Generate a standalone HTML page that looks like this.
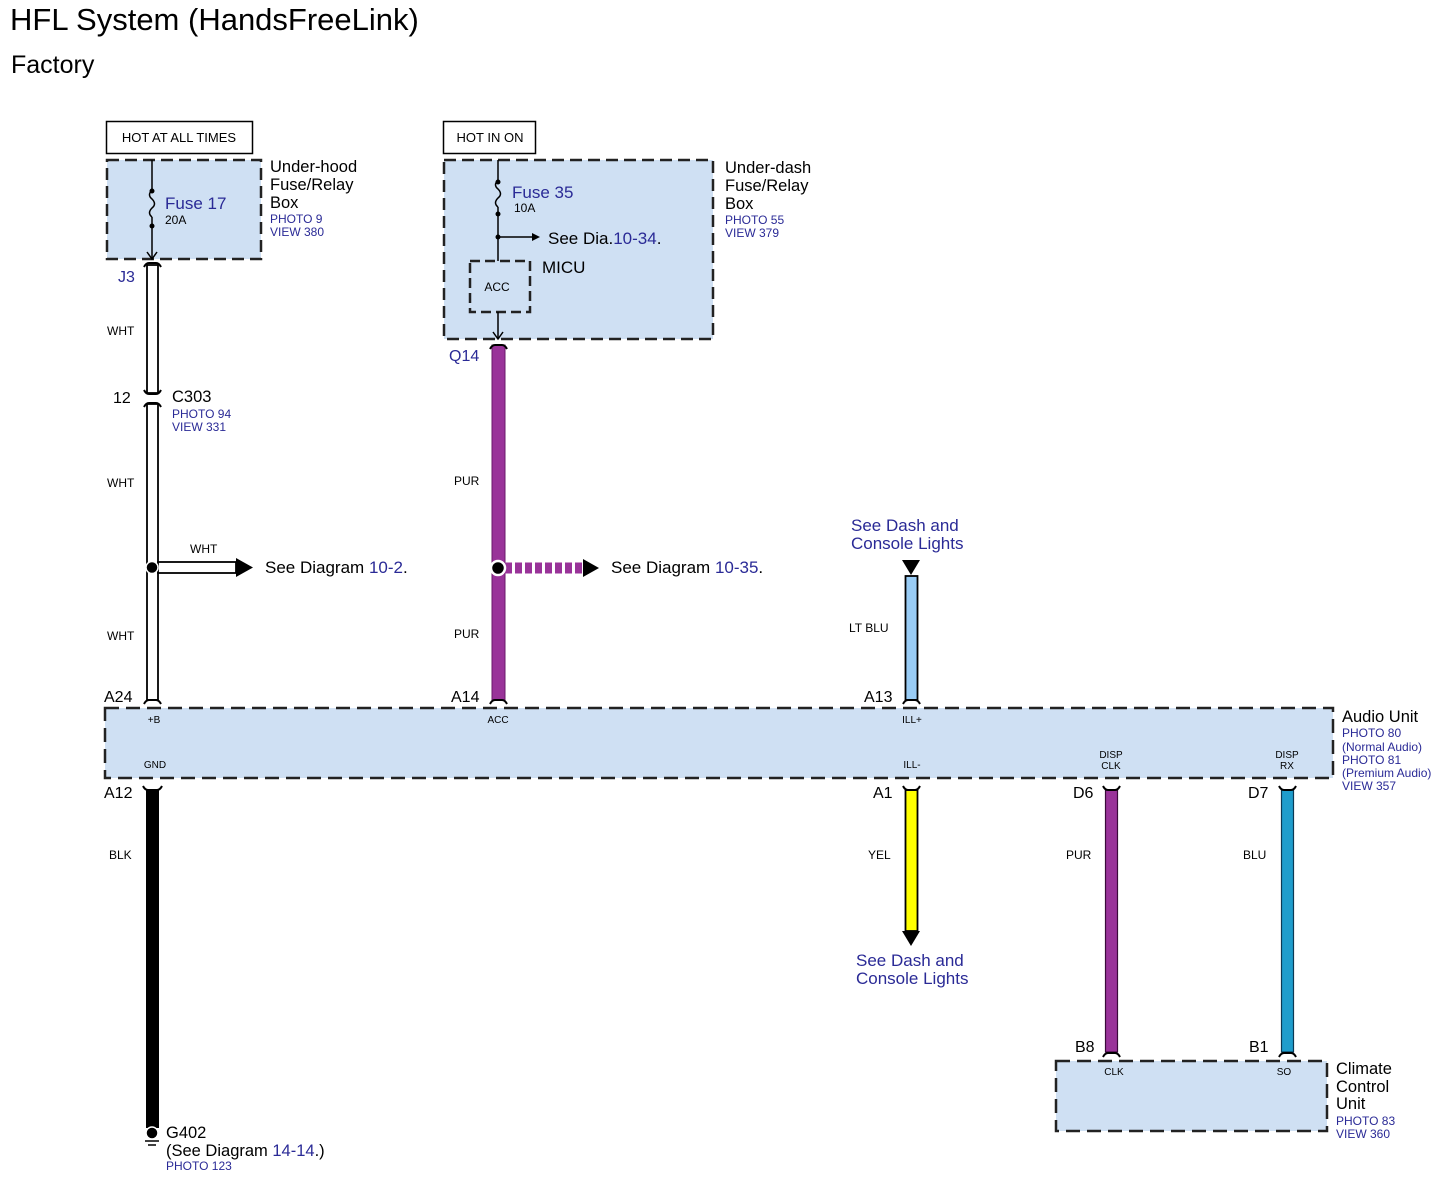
<!DOCTYPE html>
<html><head><meta charset="utf-8"><style>
html,body{margin:0;padding:0;background:#fff;width:1455px;height:1191px;overflow:hidden}
svg{display:block;font-family:"Liberation Sans",Arial,sans-serif}
.b{fill:#2a2a96}
</style></head><body>
<svg width="1455" height="1191" viewBox="0 0 1455 1191" xmlns="http://www.w3.org/2000/svg">
<text x="10" y="30" font-size="31">HFL System (HandsFreeLink)</text>
<text x="11" y="73" font-size="25">Factory</text>

<rect x="106.5" y="121.5" width="146" height="32" fill="#fff" stroke="#000" stroke-width="1.5"/>
<text x="179" y="142" font-size="13" text-anchor="middle">HOT AT ALL TIMES</text>
<rect x="443.5" y="121.5" width="92" height="32" fill="#fff" stroke="#000" stroke-width="1.5"/>
<text x="490" y="142" font-size="13" text-anchor="middle">HOT IN ON</text>

<rect x="107" y="160" width="154" height="99" fill="#cfe0f3" stroke="#222" stroke-width="2.5" stroke-dasharray="12,6"/>
<line x1="152" y1="160" x2="152" y2="190" stroke="#000" stroke-width="1.5"/>
<path d="M152 190 q-5 5 0 9 q5 5 0 9 q-5 5 0 9" fill="none" stroke="#000" stroke-width="1.5"/>
<line x1="152" y1="217" x2="152" y2="258" stroke="#000" stroke-width="1.5"/>
<circle cx="152" cy="191" r="2.5"/><circle cx="152" cy="226" r="2.5"/>
<path d="M147 252 L152 259 L157 252" fill="none" stroke="#000" stroke-width="1.5"/>
<text x="165" y="209" font-size="17" class="b">Fuse 17</text>
<text x="165" y="224" font-size="12">20A</text>
<text x="270" y="172" font-size="16.5">Under-hood</text>
<text x="270" y="190" font-size="16.5">Fuse/Relay</text>
<text x="270" y="208" font-size="16.5">Box</text>
<text x="270" y="223" font-size="12" class="b">PHOTO 9</text>
<text x="270" y="236" font-size="12" class="b">VIEW 380</text>

<rect x="444" y="160" width="269" height="179" fill="#cfe0f3" stroke="#222" stroke-width="2.5" stroke-dasharray="12,6"/>
<line x1="498" y1="160" x2="498" y2="180" stroke="#000" stroke-width="1.5"/>
<path d="M498 180 q-5 5 0 9 q5 5 0 9 q-5 5 0 9" fill="none" stroke="#000" stroke-width="1.5"/>
<line x1="498" y1="207" x2="498" y2="261" stroke="#000" stroke-width="1.5"/>
<circle cx="498" cy="182" r="2.5"/><circle cx="498" cy="214" r="2.5"/><circle cx="498" cy="237" r="2.5"/>
<line x1="498" y1="237" x2="532" y2="237" stroke="#000" stroke-width="1.5"/>
<path d="M532 233 L540 237 L532 241 Z"/>
<text x="548" y="244" font-size="17">See Dia.<tspan class="b">10-34</tspan>.</text>
<text x="512" y="198" font-size="17" class="b">Fuse 35</text>
<text x="514" y="212" font-size="12">10A</text>
<rect x="470" y="261" width="60" height="51" fill="#cfe0f3" stroke="#222" stroke-width="2.5" stroke-dasharray="10,5"/>
<text x="497" y="291" font-size="12" text-anchor="middle">ACC</text>
<text x="542" y="273" font-size="17">MICU</text>
<line x1="498" y1="312" x2="498" y2="339" stroke="#000" stroke-width="1.5"/>
<path d="M493 332 L498 339 L503 332" fill="none" stroke="#000" stroke-width="1.5"/>
<text x="725" y="173" font-size="16.5">Under-dash</text>
<text x="725" y="191" font-size="16.5">Fuse/Relay</text>
<text x="725" y="209" font-size="16.5">Box</text>
<text x="725" y="224" font-size="12" class="b">PHOTO 55</text>
<text x="725" y="237" font-size="12" class="b">VIEW 379</text>

<rect x="147" y="265" width="11" height="128" fill="#fff" stroke="#000" stroke-width="1.8"/>
<rect x="147" y="404" width="11" height="296" fill="#fff" stroke="#000" stroke-width="1.8"/>
<path d="M144 267 Q146 263 149 263 L156 263 Q159 263 161 267" fill="none" stroke="#000" stroke-width="2"/>
<path d="M144 390 Q146 394 149 394 L156 394 Q159 394 161 390" fill="none" stroke="#000" stroke-width="2"/>
<path d="M144 407 Q146 403 149 403 L156 403 Q159 403 161 407" fill="none" stroke="#000" stroke-width="2"/>
<path d="M144 704 Q146 700 149 700 L156 700 Q159 700 161 704" fill="none" stroke="#000" stroke-width="2"/>
<text x="118" y="282" font-size="16" class="b">J3</text>
<text x="107" y="335" font-size="12">WHT</text>
<text x="113" y="403" font-size="16">12</text>
<text x="172" y="402" font-size="16.5">C303</text>
<text x="172" y="418" font-size="12" class="b">PHOTO 94</text>
<text x="172" y="431" font-size="12" class="b">VIEW 331</text>
<text x="107" y="487" font-size="12">WHT</text>
<text x="107" y="640" font-size="12">WHT</text>
<rect x="158" y="562" width="78" height="11" fill="#fff" stroke="#000" stroke-width="1.8"/>
<path d="M236 558 L253 567.5 L236 577 Z"/>
<circle cx="152" cy="567.5" r="6" fill="#000" stroke="#fff" stroke-width="1.5"/>
<text x="190" y="553" font-size="12">WHT</text>
<text x="265" y="573" font-size="17">See Diagram <tspan class="b">10-2</tspan>.</text>

<rect x="492" y="345" width="13" height="355" fill="#993399" stroke="#6a1a6a" stroke-width="1"/>
<path d="M490 349 Q492 345 495 345 L502 345 Q505 345 507 349" fill="none" stroke="#000" stroke-width="2"/>
<path d="M490 704 Q492 700 495 700 L502 700 Q505 700 507 704" fill="none" stroke="#000" stroke-width="2"/>
<text x="449" y="361" font-size="16" class="b">Q14</text>
<text x="454" y="485" font-size="12">PUR</text>
<text x="454" y="638" font-size="12">PUR</text>
<line x1="505" y1="568" x2="583" y2="568" stroke="#993399" stroke-width="11" stroke-dasharray="7,3"/>
<path d="M583 559 L599 568 L583 577 Z"/>
<circle cx="498" cy="568" r="7" fill="#000" stroke="#fff" stroke-width="2.5"/>
<text x="611" y="573" font-size="17">See Diagram <tspan class="b">10-35</tspan>.</text>

<text x="851" y="531" font-size="17" class="b">See Dash and</text>
<text x="851" y="549" font-size="17" class="b">Console Lights</text>
<path d="M902 560 L920 560 L911 575 Z"/>
<rect x="905.5" y="576" width="12" height="124" fill="#99ccf5" stroke="#000" stroke-width="1.8"/>
<path d="M903 704 Q905 700 908 700 L915 700 Q918 700 920 704" fill="none" stroke="#000" stroke-width="2"/>
<text x="849" y="632" font-size="12">LT BLU</text>

<rect x="105" y="708" width="1228" height="70" fill="#cfe0f3" stroke="#222" stroke-width="2.5" stroke-dasharray="14,7"/>
<text x="104" y="702" font-size="16">A24</text>
<text x="451" y="702" font-size="16">A14</text>
<text x="864" y="702" font-size="16">A13</text>
<text x="154" y="723" font-size="10" text-anchor="middle">+B</text>
<text x="498" y="723" font-size="10" text-anchor="middle">ACC</text>
<text x="912" y="723" font-size="10" text-anchor="middle">ILL+</text>
<text x="155" y="768" font-size="10" text-anchor="middle">GND</text>
<text x="912" y="768" font-size="10" text-anchor="middle">ILL-</text>
<text x="1111" y="758" font-size="10" text-anchor="middle">DISP</text>
<text x="1111" y="769" font-size="10" text-anchor="middle">CLK</text>
<text x="1287" y="758" font-size="10" text-anchor="middle">DISP</text>
<text x="1287" y="769" font-size="10" text-anchor="middle">RX</text>
<text x="1342" y="722" font-size="16.5">Audio Unit</text>
<text x="1342" y="737" font-size="12" class="b">PHOTO 80</text>
<text x="1342" y="751" font-size="12" class="b">(Normal Audio)</text>
<text x="1342" y="764" font-size="12" class="b">PHOTO 81</text>
<text x="1342" y="777" font-size="12" class="b">(Premium Audio)</text>
<text x="1342" y="790" font-size="12" class="b">VIEW 357</text>

<text x="104" y="798" font-size="16">A12</text>
<rect x="146" y="790" width="13" height="338" fill="#000"/>
<path d="M143 786 Q145 790 148 790 L157 790 Q160 790 162 786" fill="none" stroke="#000" stroke-width="2"/>
<text x="109" y="859" font-size="12">BLK</text>
<circle cx="152" cy="1133" r="6" fill="#000" stroke="#fff" stroke-width="1.5"/>
<line x1="145" y1="1141" x2="159" y2="1141" stroke="#000" stroke-width="1.5"/>
<line x1="148" y1="1145" x2="156" y2="1145" stroke="#000" stroke-width="1.5"/>
<text x="166" y="1138" font-size="16.5">G402</text>
<text x="166" y="1156" font-size="16.5">(See Diagram <tspan class="b">14-14</tspan>.)</text>
<text x="166" y="1170" font-size="12" class="b">PHOTO 123</text>

<text x="873" y="798" font-size="16">A1</text>
<rect x="905.5" y="790" width="12" height="141" fill="#ffff00" stroke="#000" stroke-width="1.8"/>
<path d="M903 786 Q905 790 908 790 L915 790 Q918 790 920 786" fill="none" stroke="#000" stroke-width="2"/>
<path d="M902 931 L920 931 L911 946 Z"/>
<text x="868" y="859" font-size="12">YEL</text>
<text x="856" y="966" font-size="17" class="b">See Dash and</text>
<text x="856" y="984" font-size="17" class="b">Console Lights</text>

<text x="1073" y="798" font-size="16">D6</text>
<rect x="1105.5" y="790" width="12" height="262" fill="#993399" stroke="#3a0a3a" stroke-width="1.2"/>
<path d="M1103 786 Q1105 790 1108 790 L1115 790 Q1118 790 1120 786" fill="none" stroke="#000" stroke-width="2"/>
<text x="1066" y="859" font-size="12">PUR</text>
<path d="M1103 1057 Q1105 1053 1108 1053 L1115 1053 Q1118 1053 1120 1057" fill="none" stroke="#000" stroke-width="2"/>
<text x="1075" y="1052" font-size="16">B8</text>

<text x="1248" y="798" font-size="16">D7</text>
<rect x="1281.5" y="790" width="12" height="262" fill="#1f9dcc" stroke="#0a3a55" stroke-width="1.2"/>
<path d="M1279 786 Q1281 790 1284 790 L1291 790 Q1294 790 1296 786" fill="none" stroke="#000" stroke-width="2"/>
<text x="1243" y="859" font-size="12">BLU</text>
<path d="M1279 1057 Q1281 1053 1284 1053 L1291 1053 Q1294 1053 1296 1057" fill="none" stroke="#000" stroke-width="2"/>
<text x="1249" y="1052" font-size="16">B1</text>

<rect x="1056" y="1061" width="271" height="70" fill="#cfe0f3" stroke="#222" stroke-width="2.5" stroke-dasharray="14,7"/>
<text x="1114" y="1075" font-size="10" text-anchor="middle">CLK</text>
<text x="1284" y="1075" font-size="10" text-anchor="middle">SO</text>
<text x="1336" y="1074" font-size="16.5">Climate</text>
<text x="1336" y="1092" font-size="16.5">Control</text>
<text x="1336" y="1109" font-size="16.5">Unit</text>
<text x="1336" y="1125" font-size="12" class="b">PHOTO 83</text>
<text x="1336" y="1138" font-size="12" class="b">VIEW 360</text>
</svg>
</body></html>
